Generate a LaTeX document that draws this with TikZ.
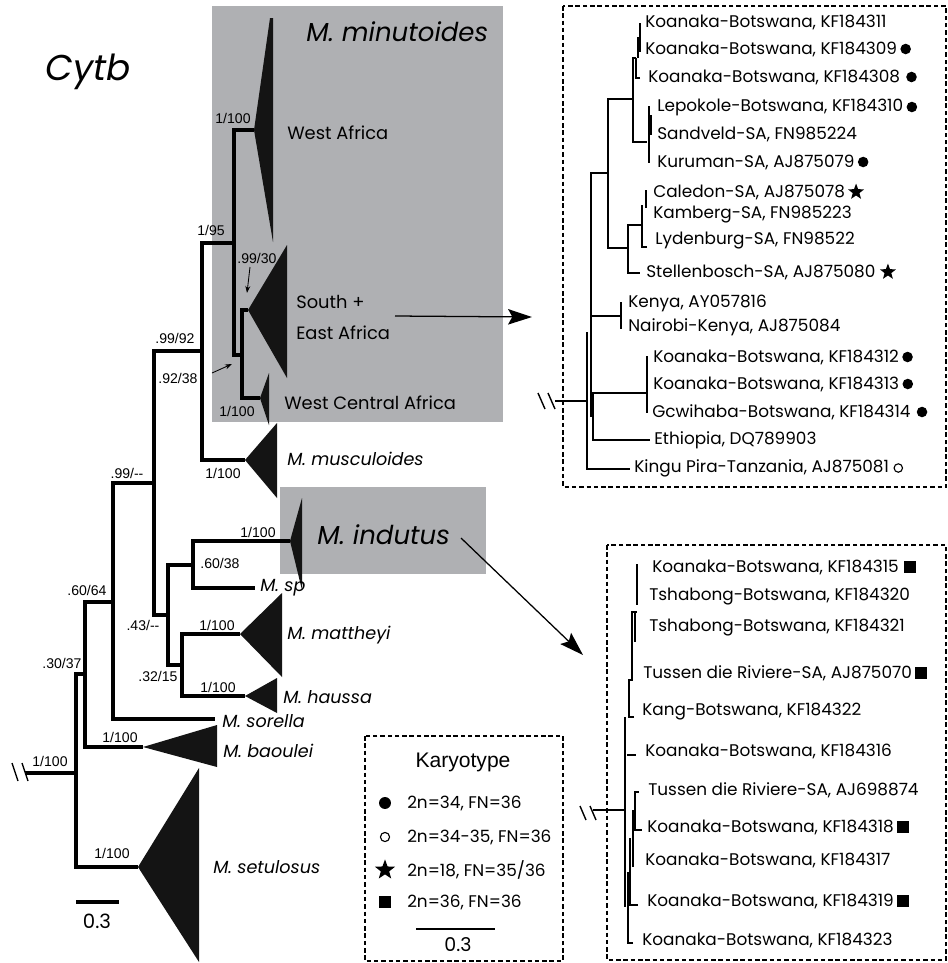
\documentclass[tikz,border=0pt]{standalone}
\usepackage{fontspec}
\setmainfont{Liberation Sans}
\newfontfamily\futfont{Poppins}
\usetikzlibrary{arrows.meta, positioning, shapes.geometric}

\definecolor{boxgrey}{RGB}{175,176,179}

\begin{document}
\begin{tikzpicture}[
    x=0.025cm, y=-0.025cm,
    br/.style={line width=2.8pt, line join=miter},
    twig/.style={line width=1.7pt, line join=miter},
    clade/.style={fill=black!92},
    bval/.style={font=\fontsize{10}{12}\selectfont, inner sep=0pt},
    taxon/.style={font=\futfont\itshape\fontsize{12.5}{14}\selectfont, anchor=west, inner sep=0pt},
    region/.style={font=\futfont\fontsize{12.7}{14}\selectfont, anchor=west, inner sep=0pt},
    bigtaxon/.style={font=\futfont\itshape\fontsize{18.5}{20}\selectfont, anchor=west, inner sep=0pt},
    seq/.style={font=\futfont\fontsize{12}{14}\selectfont, anchor=west, inner sep=0pt},
    kdot/.style={circle, fill=black, inner sep=0pt, minimum size=7.5pt},
    kring/.style={circle, draw=black, line width=0.8pt, inner sep=0pt, minimum size=6pt},
    kstar/.style={star, star points=5, star point ratio=2.4, fill=black, inner sep=0pt, minimum size=12pt},
    ksq/.style={rectangle, fill=black, inner sep=0pt, minimum size=8.5pt},
    dbox/.style={draw, line width=1.3pt, dash pattern=on 3.2pt off 2pt},
    cut/.style={line width=1pt},
    pointer/.style={line width=0.9pt, -{Stealth[length=17pt, width=11pt, inset=3pt]}},
    tinyarrow/.style={line width=0.6pt, -{Stealth[length=5pt, width=3.5pt]}}
]
\useasboundingbox (0,0) rectangle (948,963);

% Highlighted clades
\fill[boxgrey] (212,6) rectangle (503,422);
\fill[boxgrey] (280,487) rectangle (486,574);

\node[font=\futfont\itshape\fontsize{25.5}{28}\selectfont] (title) at (88,72) {Cytb};

% Support values
\node[bval] (s1)  at (233,118) {1/100};
\node[bval] (s2)  at (211,230) {1/95};
\node[bval] (s3)  at (257,258) {.99/30};
\node[bval] (s4)  at (175,338) {.99/92};
\node[bval] (s5)  at (178,378) {.92/38};
\node[bval] (s6)  at (237,411) {1/100};
\node[bval] (s7)  at (223,473) {1/100};
\node[bval] (s8)  at (127,473) {.99/-{}-};
\node[bval] (s9)  at (258,532) {1/100};
\node[bval] (s10) at (220,563) {.60/38};
\node[bval] (s11) at (143,625) {.43/-{}-};
\node[bval] (s12) at (217,625) {1/100};
\node[bval] (s13) at (158,676) {.32/15};
\node[bval] (s14) at (218,687) {1/100};
\node[bval] (s15) at (87,590)  {.60/64};
\node[bval] (s16) at (62,663)  {.30/37};
\node[bval] (s17) at (120,737) {1/100};
\node[bval] (s18) at (50,761)  {1/100};
\node[bval] (s19) at (112,853) {1/100};

% Tips and internal nodes
\coordinate (wa)  at (254,130);
\coordinate (se)  at (248,310);
\coordinate (wca) at (260,398);
\coordinate (mus) at (245,460);
\coordinate (ind) at (290,541);
\coordinate (msp) at (255,588);
\coordinate (mat) at (240,634);
\coordinate (hau) at (245,696);
\coordinate (sor) at (215,719);
\coordinate (bao) at (143,747);
\coordinate (set) at (138,867);
\coordinate (nF) at (242,355);
\coordinate (nE) at (234,243);
\coordinate (nD) at (202,351);
\coordinate (nC) at (154,483);
\coordinate (nG) at (168,615);
\coordinate (nH) at (193,565);
\coordinate (nI) at (182,665);
\coordinate (nB) at (113,602);
\coordinate (nA) at (85,674);
\coordinate (nR) at (76,773);
\coordinate (stub) at (25,773);

% Branches
\draw[br] (se) -| (nF) |- (wca);
\draw[br] (wa) -| (nE) |- (nF);
\draw[br] (nE) -| (nD) |- (mus);
\draw[br] (nD) -| (nC) |- (nG);
\draw[br] (ind) -| (nH) |- (msp);
\draw[br] (mat) -| (nI) |- (hau);
\draw[br] (nH) -| (nG) |- (nI);
\draw[br] (nC) -| (nB) |- (sor);
\draw[br] (nB) -| (nA) |- (bao);
\draw[br] (nA) -| (nR) |- (set);
\draw[br] (stub) -- (nR);
\draw[cut] (12,763) -- (18,781) (22,763) -- (28,781);

% Collapsed clades
\fill[clade] (wa)  -- (270,18) -- (273,18) -- (273,242) -- cycle;
\fill[clade] (se)  -- (287,245) -- (287,378) -- cycle;
\fill[clade] (wca) -- (269,373) -- (269,425) -- cycle;
\fill[clade] (mus) -- (277,423) -- (277,498) -- cycle;
\fill[clade] (ind) -- (302,498) -- (302,590) -- cycle;
\fill[clade] (mat) -- (282,593) -- (282,677) -- cycle;
\fill[clade] (hau) -- (277,678) -- (277,713) -- cycle;
\fill[clade] (bao) -- (217,725) -- (217,767) -- cycle;
\fill[clade] (set) -- (199,768) -- (199,962) -- cycle;

\draw[tinyarrow] (250,267) -- (247,293);
\draw[tinyarrow] (212,373) -- (232,364);

% Clade names
\node[bigtaxon] (minu) at (306,32) {M.\ minutoides};
\node[bigtaxon] (indu) at (317,535) {M.\ indutus};
\node[region] (wafr) at (287,133) {West Africa};
\node[region] (safr) at (296,302) {South +};
\node[region] (eafr) at (296,333) {East Africa};
\node[region] (wcafr) at (284,403) {West Central Africa};
\node[taxon] (musc) at (287,459) {M.\ musculoides};
\node[taxon] (spec) at (260,588) {M.\ sp};
\node[taxon] (matt) at (287,635) {M.\ mattheyi};
\node[taxon] (haus) at (283,697) {M.\ haussa};
\node[taxon] (sore) at (222,721) {M.\ sorella};
\node[taxon] (baou) at (223,751) {M.\ baoulei};
\node[taxon] (setu) at (213,867) {M.\ setulosus};

% Scale bar
\draw[br] (76,902) -- (119,902);
\node[font=\futfont\fontsize{14}{16}\selectfont] (sc1) at (97,921) {0.3};

% Pointers to the insets
\coordinate (sefrom) at (395,316);
\coordinate (seto) at (532,317);
\coordinate (infrom) at (461,538);
\coordinate (into) at (583,655);
\draw[pointer] (sefrom) -- (seto);
\draw[pointer] (infrom) -- (into);

% Inset: South + East Africa
\draw[dbox] (563,6) rectangle (946,487);
\node[seq] (t1)  at (645,22)  {Koanaka-Botswana, KF184311};
\node[seq] (t2)  at (645,49)  {Koanaka-Botswana, KF184309};
\node[seq] (t3)  at (648,77)  {Koanaka-Botswana, KF184308};
\node[seq] (t4)  at (657,107) {Lepokole-Botswana, KF184310};
\node[seq] (t5)  at (657,134) {Sandveld-SA, FN985224};
\node[seq] (t6)  at (657,162) {Kuruman-SA, AJ875079};
\node[seq] (t7)  at (653,192) {Caledon-SA, AJ875078};
\node[seq] (t8)  at (653,215) {Kamberg-SA, FN985223};
\node[seq] (t9)  at (655,241) {Lydenburg-SA, FN98522};
\node[seq] (t10) at (646,272) {Stellenbosch-SA, AJ875080};
\node[seq] (t11) at (628,303) {Kenya, AY057816};
\node[seq] (t12) at (628,327) {Nairobi-Kenya, AJ875084};
\node[seq] (t13) at (653,357) {Koanaka-Botswana, KF184312};
\node[seq] (t14) at (653,384) {Koanaka-Botswana, KF184313};
\node[seq] (t15) at (652,412) {Gcwihaba-Botswana, KF184314};
\node[seq] (t16) at (654,440) {Ethiopia, DQ789903};
\node[seq] (t17) at (634,468) {Kingu Pira-Tanzania, AJ875081};
\node[kdot, right=2pt of t2] {};
\node[kdot, right=4pt of t3] {};
\node[kdot, right=2pt of t4] {};
\node[kdot, right=2pt of t6] {};
\node[kstar, right=4pt of t7] {};
\node[kstar, right=5pt of t10] {};
\node[kdot, right=2pt of t13] {};
\node[kdot, right=2pt of t14] {};
\node[kdot, right=4pt of t15] {};
\node[kring, right=3pt of t17] {};

\draw[twig] (555,401) -- (587,401);
\draw[cut] (538,393) -- (545,409) (548,393) -- (555,409);
\draw[twig] (587,332) -- (587,469) -- (630,469);
\draw[twig] (608,173) -| (591,417);
\draw[twig] (591,316) -- (621,316) (621,302) -- (621,329);
\draw[twig] (647,393) -| (593,440) -- (650,440);
\draw[twig] (647,356) -- (647,413);
\draw[twig] (633,99) -| (608,248) -- (628,248);
\draw[twig] (636,58) -| (633,142) -- (647,142);
\draw[twig] (649,106) -- (649,163) (651,115) -- (651,135);
\draw[twig] (640,78) -| (636,58);
\draw[twig] (640,23) -- (640,52) (638,37) -- (638,58);
\draw[twig] (642,225) -| (628,273) -- (640,273);
\draw[twig] (646,190) -- (646,208) (647,247) -| (642,205);

% Inset: M. indutus
\draw[dbox] (607,545) rectangle (946,960);
\node[seq] (b1)  at (652,567) {Koanaka-Botswana, KF184315};
\node[seq] (b2)  at (649,597) {Tshabong-Botswana, KF184320};
\node[seq] (b3)  at (649,628) {Tshabong-Botswana, KF184321};
\node[seq] (b4)  at (643,673) {Tussen die Riviere-SA, AJ875070};
\node[seq] (b5)  at (642,712) {Kang-Botswana, KF184322};
\node[seq] (b6)  at (645,751) {Koanaka-Botswana, KF184316};
\node[seq] (b7)  at (648,790) {Tussen die Riviere-SA, AJ698874};
\node[seq] (b8)  at (647,827) {Koanaka-Botswana, KF184318};
\node[seq] (b9)  at (645,860) {Koanaka-Botswana, KF184317};
\node[seq] (b10) at (647,901) {Koanaka-Botswana, KF184319};
\node[seq] (b11) at (642,940) {Koanaka-Botswana, KF184323};
\node[ksq, right=3pt of b1] {};
\node[ksq, right=2pt of b4] {};
\node[ksq, right=2pt of b8] {};
\node[ksq, right=2pt of b10] {};

\draw[twig] (593,810) -- (625,810);
\draw[cut] (580,806) -- (586,820) (590,806) -- (596,820);
\draw[twig] (625,717) -- (625,907) (627,755) -- (636,755);
\draw[twig] (634,717) -| (629,680) -| (632,612) -- (637,612);
\draw[twig] (635,612) -- (635,642) (637,564) -- (637,605);
\draw[twig] (639,792) -| (635,830) -- (642,830);
\draw[twig] (633,810) -- (633,867);
\draw[twig] (638,905) -| (630,838);
\draw[twig] (633,943) -| (628,872);

% Legend
\draw[dbox] (365,736) rectangle (563,961);
\node[font=\fontsize{15}{17}\selectfont] (ktitle) at (463,762) {Karyotype};
\node[kdot, minimum size=8.5pt] (k1) at (385,803) {};
\node[kring, minimum size=6.5pt] (k2) at (385,837) {};
\node[kstar, minimum size=15pt] (k3) at (385,870) {};
\node[ksq] (k4) at (385,902) {};
\node[seq] (kt1) at (407,803) {2n=34, FN=36};
\node[seq] (kt2) at (407,837) {2n=34-35, FN=36};
\node[seq] (kt3) at (407,870) {2n=18, FN=35/36};
\node[seq] (kt4) at (407,902) {2n=36, FN=36};
\draw[line width=1.3pt] (416,929) -- (495,929);
\node[font=\futfont\fontsize{13.5}{15}\selectfont] (sc2) at (458,945) {0.3};

\end{tikzpicture}
\end{document}
